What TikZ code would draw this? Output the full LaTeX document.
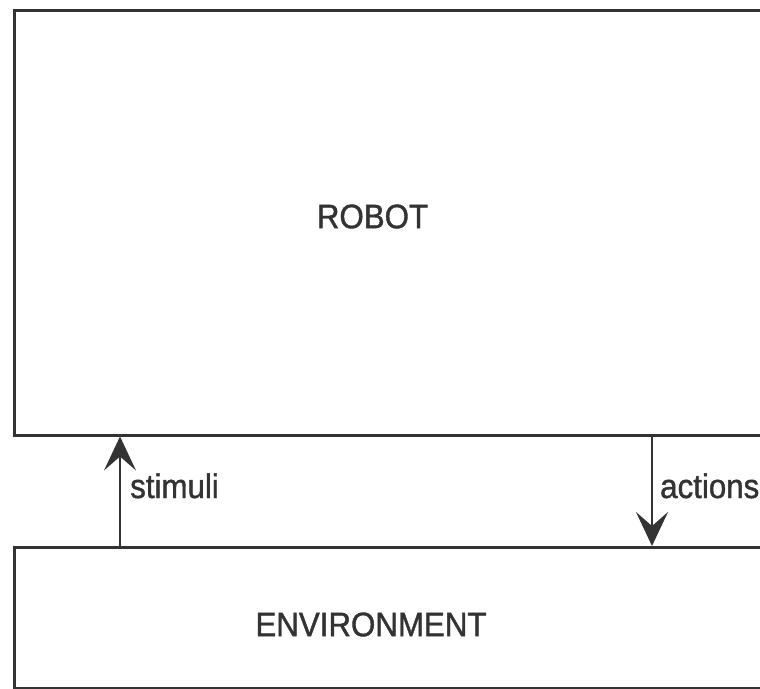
\documentclass[tikz,border=0pt]{standalone}
\usepackage{fontspec}
\setmainfont{Liberation Sans}[FakeStretch=0.92,FakeBold=1.2]
\usetikzlibrary{arrows.meta}
\definecolor{ink}{HTML}{333333}
\begin{document}
\begin{tikzpicture}[x=1pt,y=-1pt,
  box/.style={draw=ink, line width=3pt, rectangle, inner sep=0pt, anchor=north west},
  caption/.style={text=ink, inner sep=0pt, font=\fontsize{34}{40}\selectfont},
  flow/.style={draw=ink, line width=1.5pt,
    -{Stealth[length=34pt, width=32pt, inset=14pt]}}]
  \useasboundingbox (0,0) rectangle (760,688);
  \clip (0,0) rectangle (760,688);
  % the two blocks (right sides run past the frame)
  \node[box, minimum width=770pt, minimum height=424.5pt] (robot) at (12.5,9) {};
  \node[box, minimum width=770pt, minimum height=140.5pt] (env) at (12.5,546) {};
  % block titles
  \node[caption] (robottitle) at (372.5,216.5) {ROBOT};
  \node[caption] (envtitle) at (371,624.5) {ENVIRONMENT};
  % arrow columns
  \coordinate (sx) at (120,0);
  \coordinate (ax) at (652,0);
  \draw[flow] (sx |- env.north) -- (sx |- robot.south);
  \draw[flow] (ax |- robot.south) -- (ax |- env.north);
  % arrow labels
  \node[caption, anchor=base west] (stimuli) at (130,498) {stimuli};
  \node[caption, anchor=base west] (actions) at (660,498) {actions};
\end{tikzpicture}
\end{document}
